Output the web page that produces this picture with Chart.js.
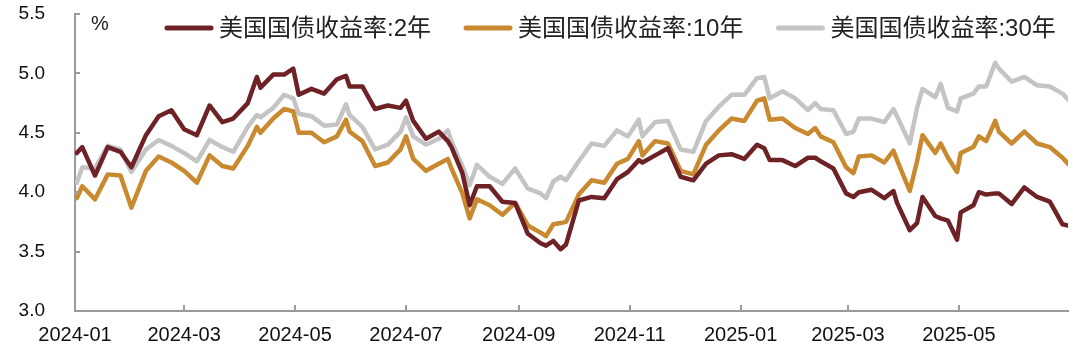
<!DOCTYPE html>
<html>
<head>
<meta charset="utf-8">
<script src="https://cdn.jsdelivr.net/npm/chart.js@4.4.1/dist/chart.umd.min.js"></script>
<style>
  html, body { margin: 0; padding: 0; background: #ffffff; }
  #wrap { width: 1080px; height: 359px; }
</style>
</head>
<body>
<div id="wrap"><canvas id="c" width="1080" height="359"></canvas></div>
<script>
// ---- data ----
const dates = [
  '2024-01-02','2024-01-05','2024-01-12','2024-01-19','2024-01-26',
  '2024-02-01','2024-02-09','2024-02-16','2024-02-23',
  '2024-03-01','2024-03-08','2024-03-15','2024-03-22','2024-03-28',
  '2024-04-05','2024-04-10','2024-04-12','2024-04-19','2024-04-25','2024-04-30',
  '2024-05-03','2024-05-10','2024-05-17','2024-05-24','2024-05-29','2024-05-31',
  '2024-06-07','2024-06-14','2024-06-21','2024-06-28',
  '2024-07-01','2024-07-05','2024-07-12','2024-07-19','2024-07-24','2024-07-26',
  '2024-08-01','2024-08-05','2024-08-09','2024-08-16','2024-08-23','2024-08-30',
  '2024-09-06','2024-09-13','2024-09-16','2024-09-20','2024-09-24','2024-09-27',
  '2024-10-04','2024-10-11','2024-10-18','2024-10-25','2024-10-31',
  '2024-11-06','2024-11-08','2024-11-15','2024-11-22','2024-11-29',
  '2024-12-06','2024-12-13','2024-12-20','2024-12-27',
  '2025-01-03','2025-01-10','2025-01-14','2025-01-17','2025-01-24','2025-01-31',
  '2025-02-07','2025-02-11','2025-02-14','2025-02-21','2025-02-28',
  '2025-03-04','2025-03-07','2025-03-14','2025-03-21','2025-03-26','2025-03-28',
  '2025-04-04','2025-04-08','2025-04-11','2025-04-18','2025-04-21','2025-04-25','2025-04-30',
  '2025-05-02','2025-05-09','2025-05-12','2025-05-16','2025-05-21','2025-05-23','2025-05-30',
  '2025-06-06','2025-06-13','2025-06-20','2025-06-27','2025-06-30'
];
const y2 = [
  4.33,4.38,4.14,4.38,4.34,
  4.21,4.48,4.64,4.69,
  4.53,4.48,4.73,4.59,4.62,
  4.75,4.97,4.88,4.99,4.99,5.04,
  4.82,4.87,4.83,4.95,4.98,4.89,
  4.89,4.70,4.73,4.71,
  4.77,4.60,4.45,4.51,4.43,4.38,
  4.16,3.89,4.05,4.05,3.92,3.91,
  3.65,3.57,3.55,3.59,3.52,3.56,
  3.93,3.96,3.95,4.11,4.17,
  4.27,4.25,4.31,4.37,4.13,
  4.10,4.24,4.31,4.32,
  4.28,4.40,4.37,4.27,4.27,4.22,
  4.29,4.29,4.26,4.20,3.99,
  3.96,4.00,4.02,3.95,4.01,3.91,
  3.68,3.74,3.96,3.80,3.78,3.76,3.60,
  3.83,3.89,4.00,3.98,3.99,3.99,3.90,
  4.04,3.96,3.92,3.73,3.72
];
const y10 = [
  3.95,4.05,3.94,4.15,4.14,
  3.87,4.18,4.30,4.25,
  4.18,4.08,4.31,4.22,4.20,
  4.39,4.55,4.50,4.62,4.70,4.68,
  4.50,4.50,4.42,4.47,4.61,4.51,
  4.43,4.22,4.25,4.36,
  4.47,4.28,4.18,4.24,4.28,4.20,
  3.99,3.78,3.94,3.89,3.81,3.91,
  3.72,3.66,3.63,3.73,3.74,3.75,
  3.98,4.10,4.08,4.24,4.28,
  4.43,4.31,4.43,4.41,4.18,
  4.15,4.40,4.52,4.62,
  4.60,4.77,4.79,4.61,4.62,4.54,
  4.49,4.54,4.47,4.42,4.21,
  4.16,4.30,4.31,4.25,4.35,4.27,
  4.01,4.26,4.48,4.33,4.41,4.29,4.17,
  4.33,4.38,4.47,4.43,4.60,4.51,4.41,
  4.51,4.41,4.38,4.29,4.24
];
const y30 = [
  4.08,4.21,4.20,4.39,4.36,
  4.17,4.36,4.44,4.39,
  4.33,4.26,4.44,4.38,4.34,
  4.55,4.65,4.63,4.71,4.82,4.79,
  4.66,4.64,4.56,4.57,4.74,4.65,
  4.55,4.36,4.40,4.51,
  4.63,4.47,4.40,4.45,4.52,4.43,
  4.22,4.06,4.23,4.13,4.07,4.20,
  4.03,3.99,3.95,4.09,4.13,4.10,
  4.26,4.41,4.39,4.52,4.47,
  4.61,4.47,4.59,4.60,4.36,
  4.34,4.60,4.72,4.82,
  4.82,4.96,4.97,4.79,4.85,4.79,
  4.69,4.75,4.70,4.69,4.49,
  4.51,4.62,4.62,4.59,4.70,4.64,
  4.41,4.71,4.87,4.80,4.91,4.71,4.68,
  4.79,4.83,4.89,4.89,5.09,5.04,4.93,
  4.97,4.90,4.89,4.83,4.78
];
const seriesNames = ['美国国债收益率:2年','美国国债收益率:10年','美国国债收益率:30年'];
const seriesColors = ['#6E2226','#C9892F','#C4C4C4'];
const xTickLabels = ['2024-01','2024-03','2024-05','2024-07','2024-09','2024-11','2025-01','2025-03','2025-05'];
const yTicks = [3.0, 3.5, 4.0, 4.5, 5.0, 5.5];
const unitLabel = '%';

// ---- helpers ----
const origin = Date.UTC(2024, 0, 1);
function dayOf(s) {
  const p = s.split('-').map(Number);
  return Math.round((Date.UTC(p[0], p[1] - 1, p[2] || 1) - origin) / 86400000);
}
const xTickValues = xTickLabels.map(dayOf);
const xMax = dayOf(dates[dates.length - 1]);
function toPoints(vals) { return vals.map((v, i) => ({ x: dayOf(dates[i]), y: v })); }

const AXIS_COLOR = '#9a9a9a';
const FONT = '"Liberation Sans", Arial, "Noto Sans CJK SC", sans-serif';

const decorPlugin = {
  id: 'decor',
  afterDraw(chart) {
    const ctx = chart.ctx;
    const xs = chart.scales.x, ys = chart.scales.y;
    const area = chart.chartArea;
    ctx.save();
    // inner tick marks
    ctx.strokeStyle = AXIS_COLOR;
    ctx.lineWidth = 2;
    ctx.beginPath();
    yTicks.forEach(v => {
      const py = Math.round(ys.getPixelForValue(v));
      if (v === yTicks[0]) return;
      ctx.moveTo(area.left, py);
      ctx.lineTo(area.left + 5, py);
    });
    xTickValues.forEach((d, i) => {
      if (i === 0) return;
      const px = Math.round(xs.getPixelForValue(d));
      ctx.moveTo(px, area.bottom);
      ctx.lineTo(px, area.bottom - 6);
    });
    ctx.stroke();
    // unit label
    ctx.fillStyle = '#222';
    ctx.font = '20px ' + FONT;
    ctx.textBaseline = 'middle';
    ctx.textAlign = 'left';
    ctx.fillText(unitLabel, area.left + 16, 24);
    // legend
    ctx.font = '24px ' + FONT;
    let x = 165;
    const ly = 28;
    chart.data.datasets.forEach(ds => {
      ctx.strokeStyle = ds.borderColor;
      ctx.lineWidth = 5;
      ctx.lineCap = 'round';
      ctx.beginPath();
      ctx.moveTo(x + 2, ly);
      ctx.lineTo(x + 46, ly);
      ctx.stroke();
      ctx.fillStyle = '#222';
      ctx.fillText(ds.label, x + 54, ly + 1);
      x += 54 + ctx.measureText(ds.label).width + 33;
    });
    ctx.restore();
  }
};

new Chart(document.getElementById('c'), {
  type: 'line',
  data: {
    datasets: [y2, y10, y30].map((vals, i) => ({
      label: seriesNames[i],
      data: toPoints(vals),
      borderColor: seriesColors[i],
      backgroundColor: seriesColors[i],
      borderWidth: 4.5,
      pointRadius: 0,
      tension: 0,
      borderJoinStyle: 'round',
      borderCapStyle: 'round'
    }))
  },
  options: {
    responsive: false,
    animation: false,
    devicePixelRatio: 1,
    layout: { padding: { top: 14, right: 12, left: 0, bottom: 0 } },
    plugins: { legend: { display: false }, tooltip: { enabled: false } },
    scales: {
      x: {
        type: 'linear',
        min: 0,
        max: xMax,
        afterBuildTicks(scale) { scale.ticks = xTickValues.map(v => ({ value: v })); },
        afterFit(scale) { scale.height = 48; scale.paddingTop = 0; scale.paddingLeft = 0; scale.paddingRight = 0; },
        grid: { display: false, drawTicks: false },
        border: { display: true, color: AXIS_COLOR, width: 2 },
        ticks: {
          autoSkip: false,
          maxRotation: 0,
          padding: 12,
          color: '#111',
          font: { family: FONT, size: 20 },
          callback(v) { const i = xTickValues.indexOf(v); return i >= 0 ? xTickLabels[i] : ''; }
        }
      },
      y: {
        min: 3.0,
        max: 5.5,
        afterBuildTicks(scale) { scale.ticks = yTicks.map(v => ({ value: v })); },
        afterFit(scale) { scale.width = 75; scale.paddingTop = 0; scale.paddingBottom = 0; },
        grid: { display: false, drawTicks: false },
        border: { display: true, color: AXIS_COLOR, width: 2 },
        ticks: {
          padding: 30,
          color: '#111',
          font: { family: FONT, size: 19 },
          callback(v) { return Number(v).toFixed(1); }
        }
      }
    }
  },
  plugins: [decorPlugin]
});
</script>
</body>
</html>
